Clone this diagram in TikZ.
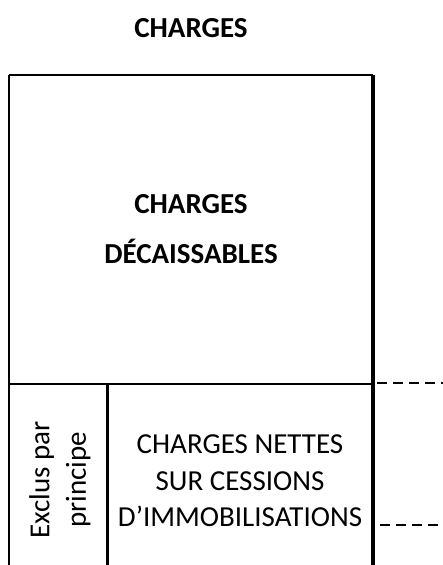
\documentclass[tikz,border=0pt]{standalone}
\usepackage{fontspec}
\setmainfont{Carlito}
\begin{document}
\begin{tikzpicture}[x=1pt,y=-1pt]
\tikzset{
  txt/.style={inner sep=0pt, align=center, font=\fontsize{29}{36.5}\selectfont},
  headtxt/.style={inner sep=0pt, font=\bfseries\fontsize{29}{38}\selectfont},
  cut/.style={dash pattern=on 10pt off 6pt, line width=2pt}
}
\useasboundingbox (0,0) rectangle (443,565);
% frame corners
\coordinate (tl) at (9,75);
\coordinate (tr) at (373,75);
\coordinate (bl) at (9,565);
\coordinate (br) at (373,565);
\coordinate (ml) at (9,384);
\coordinate (mr) at (373,384);
\coordinate (mi) at (107,384);
\coordinate (bi) at (107,565);
\draw[line width=2.5pt] (tl) -- (tr);
\draw[line width=2.8pt] (tl) -- (bl);
\draw[line width=3.2pt] (tr) -- (br);
\draw[line width=1.5pt] (ml) -- (mr);
\draw[line width=3pt] (mi) -- (bi);
% dashed leaders on the right
\coordinate (d1a) at (377,383);
\coordinate (d1b) at (443,383);
\coordinate (d2a) at (380,525);
\coordinate (d2b) at (443,525);
\draw[cut] (d1a) -- (d1b);
\draw[cut] (d2a) -- (d2b);
% texts
\node[headtxt, anchor=base] (title) at (191,37) {CHARGES};
\node[headtxt, anchor=base] (dec1) at (191,213) {CHARGES};
\node[headtxt, anchor=base] (dec2) at (191,263) {DÉCAISSABLES};
\node[txt] (nettes) at (240,481) {CHARGES NETTES\\SUR CESSIONS\\D’IMMOBILISATIONS};
\node[txt, rotate=90] (exclus) at (60,480) {Exclus par\\principe};
\end{tikzpicture}
\end{document}
